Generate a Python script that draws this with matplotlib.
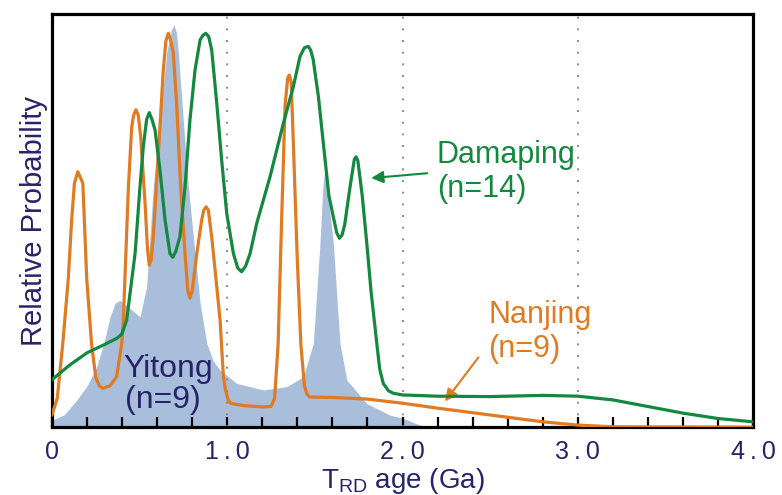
# Relative probability of T_RD ages - Yitong, Nanjing, Damaping
import matplotlib
matplotlib.use('Agg')
import matplotlib.pyplot as plt

plt.rcParams['font.family'] = ['Liberation Sans', 'DejaVu Sans']
plt.rcParams['mathtext.fontset'] = 'custom'
plt.rcParams['mathtext.rm'] = 'Liberation Sans'

navy = '#27236b'
orange = '#e07b22'
green = '#14883e'
blue = '#a9bedb'

# Yitong (n=9), filled
yitong_age = [0.0, 0.07, 0.14, 0.2, 0.255, 0.3, 0.331, 0.36, 0.388, 0.42, 0.445, 0.502,
              0.54, 0.578, 0.616, 0.654, 0.68, 0.696, 0.71, 0.721, 0.749, 0.778, 0.816,
              0.845, 0.883, 0.92, 0.959, 1.054, 1.206, 1.339, 1.434, 1.491, 1.529, 1.545,
              1.558, 1.57, 1.605, 1.643, 1.682, 1.796, 1.929, 2.0, 2.1, 2.2, 4.0]
yitong_p = [0.017, 0.03, 0.065, 0.10, 0.146, 0.21, 0.267, 0.30, 0.307, 0.295, 0.287, 0.267,
            0.34, 0.582, 0.743, 0.905, 0.96, 0.973, 0.955, 0.905, 0.743, 0.582, 0.42,
            0.30, 0.203, 0.16, 0.138, 0.106, 0.09, 0.098, 0.122, 0.203, 0.445, 0.58,
            0.63, 0.58, 0.445, 0.203, 0.114, 0.057, 0.029, 0.022, 0.005, 0.0, 0.0]

# Nanjing (n=9)
nanjing_age = [0.0, 0.03, 0.061, 0.093, 0.112, 0.128, 0.147, 0.166, 0.176, 0.198, 0.226,
               0.25, 0.27, 0.29, 0.33, 0.369, 0.398, 0.407, 0.436, 0.455, 0.466, 0.479,
               0.492, 0.506, 0.531, 0.545, 0.555, 0.566, 0.578, 0.607, 0.635, 0.65, 0.664,
               0.678, 0.692, 0.711, 0.734, 0.759, 0.775, 0.787, 0.80, 0.826, 0.854, 0.866,
               0.879, 0.892, 0.911, 0.94, 0.959, 0.978, 0.99, 1.006, 1.02, 1.04, 1.1, 1.2,
               1.25, 1.27, 1.29, 1.31, 1.33, 1.345, 1.354, 1.365, 1.38, 1.40, 1.42, 1.44,
               1.455, 1.47, 1.6, 1.8, 2.0, 2.2, 2.4, 2.6, 2.8, 3.0, 3.2, 4.0]
nanjing_p = [0.03, 0.07, 0.20, 0.36, 0.50, 0.59, 0.618, 0.60, 0.59, 0.36, 0.20,
             0.12, 0.10, 0.094, 0.10, 0.122, 0.203, 0.259, 0.582, 0.727, 0.755, 0.768,
             0.755, 0.703, 0.542, 0.43, 0.392, 0.405, 0.461, 0.663, 0.864, 0.935, 0.953,
             0.935, 0.905, 0.784, 0.582, 0.42, 0.33, 0.312, 0.33, 0.42, 0.501, 0.525,
             0.533, 0.525, 0.461, 0.34, 0.259, 0.122, 0.09, 0.065, 0.058, 0.056, 0.052, 0.049,
             0.05, 0.07, 0.20, 0.50, 0.78, 0.845, 0.852, 0.835, 0.65, 0.40, 0.20, 0.10,
             0.08, 0.073, 0.072, 0.068, 0.058, 0.046, 0.035, 0.024, 0.013, 0.005, 0.001, 0.0]

# Damaping (n=14)
damaping_age = [0.0, 0.1, 0.2, 0.3, 0.37, 0.398, 0.426, 0.474, 0.502, 0.521, 0.54, 0.555,
                0.57, 0.588, 0.616, 0.645, 0.673, 0.689, 0.706, 0.73, 0.759, 0.787, 0.816,
                0.845, 0.861, 0.877, 0.894, 0.911, 0.94, 0.968, 0.997, 1.035, 1.06, 1.082,
                1.105, 1.13, 1.168, 1.244, 1.32, 1.377, 1.415, 1.44, 1.452, 1.463, 1.476,
                1.49, 1.52, 1.548, 1.58, 1.605, 1.625, 1.64, 1.655, 1.67, 1.70, 1.725,
                1.735, 1.745, 1.77, 1.796, 1.82, 1.853, 1.87, 1.89, 1.92, 1.948, 2.0, 2.2,
                2.5, 2.8, 3.0, 3.2, 3.4, 3.6, 3.8, 4.0]
damaping_p = [0.115, 0.15, 0.18, 0.20, 0.215, 0.225, 0.259, 0.42, 0.582, 0.679, 0.745, 0.761,
              0.745, 0.719, 0.622, 0.501, 0.42, 0.411, 0.425, 0.461, 0.582, 0.743, 0.864,
              0.937, 0.948, 0.953, 0.945, 0.913, 0.784, 0.646, 0.517, 0.42, 0.385, 0.376,
              0.39, 0.42, 0.493, 0.606, 0.735, 0.824, 0.897, 0.918, 0.92, 0.921, 0.912,
              0.89, 0.80, 0.687, 0.56, 0.509, 0.47, 0.457, 0.465, 0.49, 0.58, 0.648,
              0.654, 0.645, 0.56, 0.445, 0.33, 0.203, 0.14, 0.106, 0.088, 0.082, 0.078, 0.075,
              0.074, 0.077, 0.075, 0.066, 0.050, 0.034, 0.021, 0.013]

xticks = [0, 1, 2, 3, 4]
xticklabels = ['0', '1\u2009.\u20090', '2\u2009.\u20090', '3\u2009.\u20090', '4\u2009.\u20090']

fig = plt.figure(figsize=(7.82, 4.95), dpi=100)
ax = fig.add_axes([0.0665, 0.137, 0.8965, 0.835])

ax.fill_between(yitong_age, yitong_p, 0, color=blue, lw=0, zorder=1)
for x in [1, 2, 3]:
    ax.axvline(x, color='#8a8a8a', lw=1.4, ls=(0, (1, 5)), zorder=2)
ax.plot(nanjing_age, nanjing_p, color=orange, lw=2.3, zorder=3)
ax.plot(damaping_age, damaping_p, color=green, lw=2.3, zorder=4)

ax.set_xlim(0, 4)
ax.set_ylim(0, 1)
ax.set_yticks([])
ax.set_xticks(xticks)
ax.set_xticklabels(xticklabels)
ax.set_xticks([i * 0.2 for i in range(21)], minor=True)
ax.tick_params(axis='x', which='both', direction='in', length=7, width=1.6,
               colors='black', labelcolor=navy, labelsize=18, pad=9)
for s in ax.spines.values():
    s.set_linewidth(2.3)

ax.set_ylabel('Relative Probability', color=navy, fontsize=21, labelpad=3)
ax.set_xlabel(r'T$_{\rm RD}$ age (Ga)', color=navy, fontsize=20, labelpad=2)

ax.text(2.195, 0.639, 'Damaping', color=green, fontsize=22, va='baseline')
ax.text(2.195, 0.557, '(n=14)', color=green, fontsize=22, va='baseline')
ax.annotate('', xy=(1.805, 0.602), xytext=(2.157, 0.615),
            arrowprops=dict(arrowstyle='-|>', color=green, lw=1.5, mutation_scale=18))

ax.text(2.49, 0.251, 'Nanjing', color=orange, fontsize=22, va='baseline')
ax.text(2.49, 0.170, '(n=9)', color=orange, fontsize=22, va='baseline')
ax.annotate('', xy=(2.233, 0.057), xytext=(2.442, 0.174),
            arrowprops=dict(arrowstyle='-|>', color=orange, lw=1.5, mutation_scale=18))

ax.text(0.407, 0.122, 'Yitong', color=navy, fontsize=23, va='baseline', zorder=5)
ax.text(0.417, 0.046, '(n=9)', color=navy, fontsize=23, va='baseline', zorder=5)

fig.savefig('out.png', dpi=100)
